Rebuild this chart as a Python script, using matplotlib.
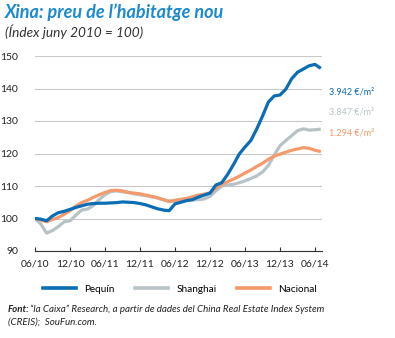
import matplotlib.pyplot as plt
from matplotlib.lines import Line2D

plt.rcParams['font.family'] = ['Lato', 'DejaVu Sans']

# mesos des de 06/10 (índex 0) fins a 07/14
pequin = [100, 99.8, 99.3, 100.8, 101.8, 102.2, 102.8, 103.4, 103.9, 104.4,
          104.6, 104.7, 104.7, 104.8, 104.9, 105.1, 105.0, 104.9, 104.6, 104.2,
          103.6, 103.0, 102.6, 102.4, 104.5, 105.0, 105.5, 105.8, 106.6, 107.2,
          107.8, 110.3, 111.0, 113.5, 116.5, 119.8, 122.0, 124.0, 127.5, 131.5,
          135.8, 137.7, 138.0, 139.8, 143.0, 145.0, 146.0, 147.0, 147.4, 146.2]
shanghai = [100, 98.3, 95.5, 96.3, 97.5, 99.0, 99.3, 101.0, 102.6, 102.9,
            104.0, 105.8, 107.3, 108.3, 108.5, 108.2, 108.0, 107.6, 107.3, 107.0,
            106.7, 106.3, 105.8, 105.4, 105.4, 105.5, 105.6, 105.7, 105.8, 106.0,
            106.8, 108.5, 110.0, 110.3, 110.5, 111.0, 111.6, 112.3, 113.1, 114.3,
            116.3, 119.5, 122.4, 124.0, 125.5, 127.0, 127.6, 127.2, 127.3, 127.5]
nacional = [100, 99.5, 99.0, 99.7, 100.3, 101.3, 102.4, 103.8, 104.9, 105.6,
            106.5, 107.3, 108.0, 108.6, 108.7, 108.5, 108.0, 107.8, 107.6, 107.2,
            106.8, 106.4, 105.8, 105.2, 105.6, 105.9, 106.2, 106.7, 107.2, 107.5,
            107.9, 109.4, 110.5, 111.3, 112.1, 113.0, 114.0, 114.9, 116.0, 117.0,
            118.2, 119.2, 119.8, 120.4, 121.0, 121.4, 121.8, 121.6, 121.0, 120.6]
tick_labels = ["06/10", "12/10", "06/11", "12/11", "06/12", "12/12", "06/13", "12/13", "06/14"]
preus = ["3.942 €/m²", "3.847 €/m²", "1.294 €/m²"]

c_blue = "#0a6db5"
c_gray = "#b7c2c6"
c_orange = "#f49a6c"

fig = plt.figure(figsize=(3.95, 3.38), dpi=100)
ax = fig.add_axes([35/395, 1 - 251/338, (322 - 35)/395, (251 - 56)/338])

meses = list(range(len(pequin)))
ax.plot(meses, nacional, color=c_orange, lw=2.3, solid_capstyle='butt', zorder=3)
ax.plot(meses, shanghai, color=c_gray, lw=2.3, solid_capstyle='butt', zorder=2)
ax.plot(meses, pequin, color=c_blue, lw=2.3, solid_capstyle='butt', zorder=4)

ax.set_xlim(0, 49.2)
ax.set_ylim(90, 150)
ax.set_yticks(range(90, 151, 10))
ax.set_xticks(range(0, 49, 6))
ax.set_xticklabels(tick_labels)
ax.grid(axis='y', color='#c9c9c9', lw=0.8)
ax.set_axisbelow(True)
for s in ['top', 'right', 'left']:
    ax.spines[s].set_visible(False)
ax.spines['bottom'].set_color('#333333')
ax.spines['bottom'].set_linewidth(0.8)
ax.tick_params(axis='x', direction='in', length=3, width=0.8, color='#333333',
               labelsize=7.5, pad=6, labelcolor='#222222')
ax.tick_params(axis='y', length=0, labelsize=7.5, pad=12, labelcolor='#222222')

# títols
fig.text(5/395, 1 - 12/338, "Xina: preu de l’habitatge nou", color="#1c8ad0",
         fontsize=13, fontweight='bold', style='italic', va='center')
fig.text(5/395, 1 - 32/338, "(Índex juny 2010 = 100)", color="#333333",
         fontsize=9.8, style='italic', va='center')

# preus a la dreta
for txt, yy, col in zip(preus, [92, 112, 133], [c_blue, c_gray, c_orange]):
    fig.text(329/395, 1 - yy/338, txt, color=col, fontsize=6.5, va='center')

handles = [Line2D([], [], color=c, lw=2.6) for c in [c_blue, c_gray, c_orange]]
fig.legend(handles, ["Pequín", "Shanghai", "Nacional"], loc='center',
           bbox_to_anchor=(180/395, 1 - 289/338), ncol=3, frameon=False,
           fontsize=7.2, handlelength=3.3, handletextpad=0.8, columnspacing=2.1)

fig.text(8/395, 1 - 309/338, "Font:", fontsize=7, fontweight='bold',
         style='italic', va='center', color='#222222')
fig.text(30/395, 1 - 309/338,
         "“la Caixa” Research, a partir de dades del China Real Estate Index System",
         fontsize=7, style='italic', va='center', color='#222222')
fig.text(8/395, 1 - 322/338, "(CREIS);  SouFun.com.", fontsize=7,
         style='italic', va='center', color='#222222')

plt.savefig("out.png", dpi=100)
